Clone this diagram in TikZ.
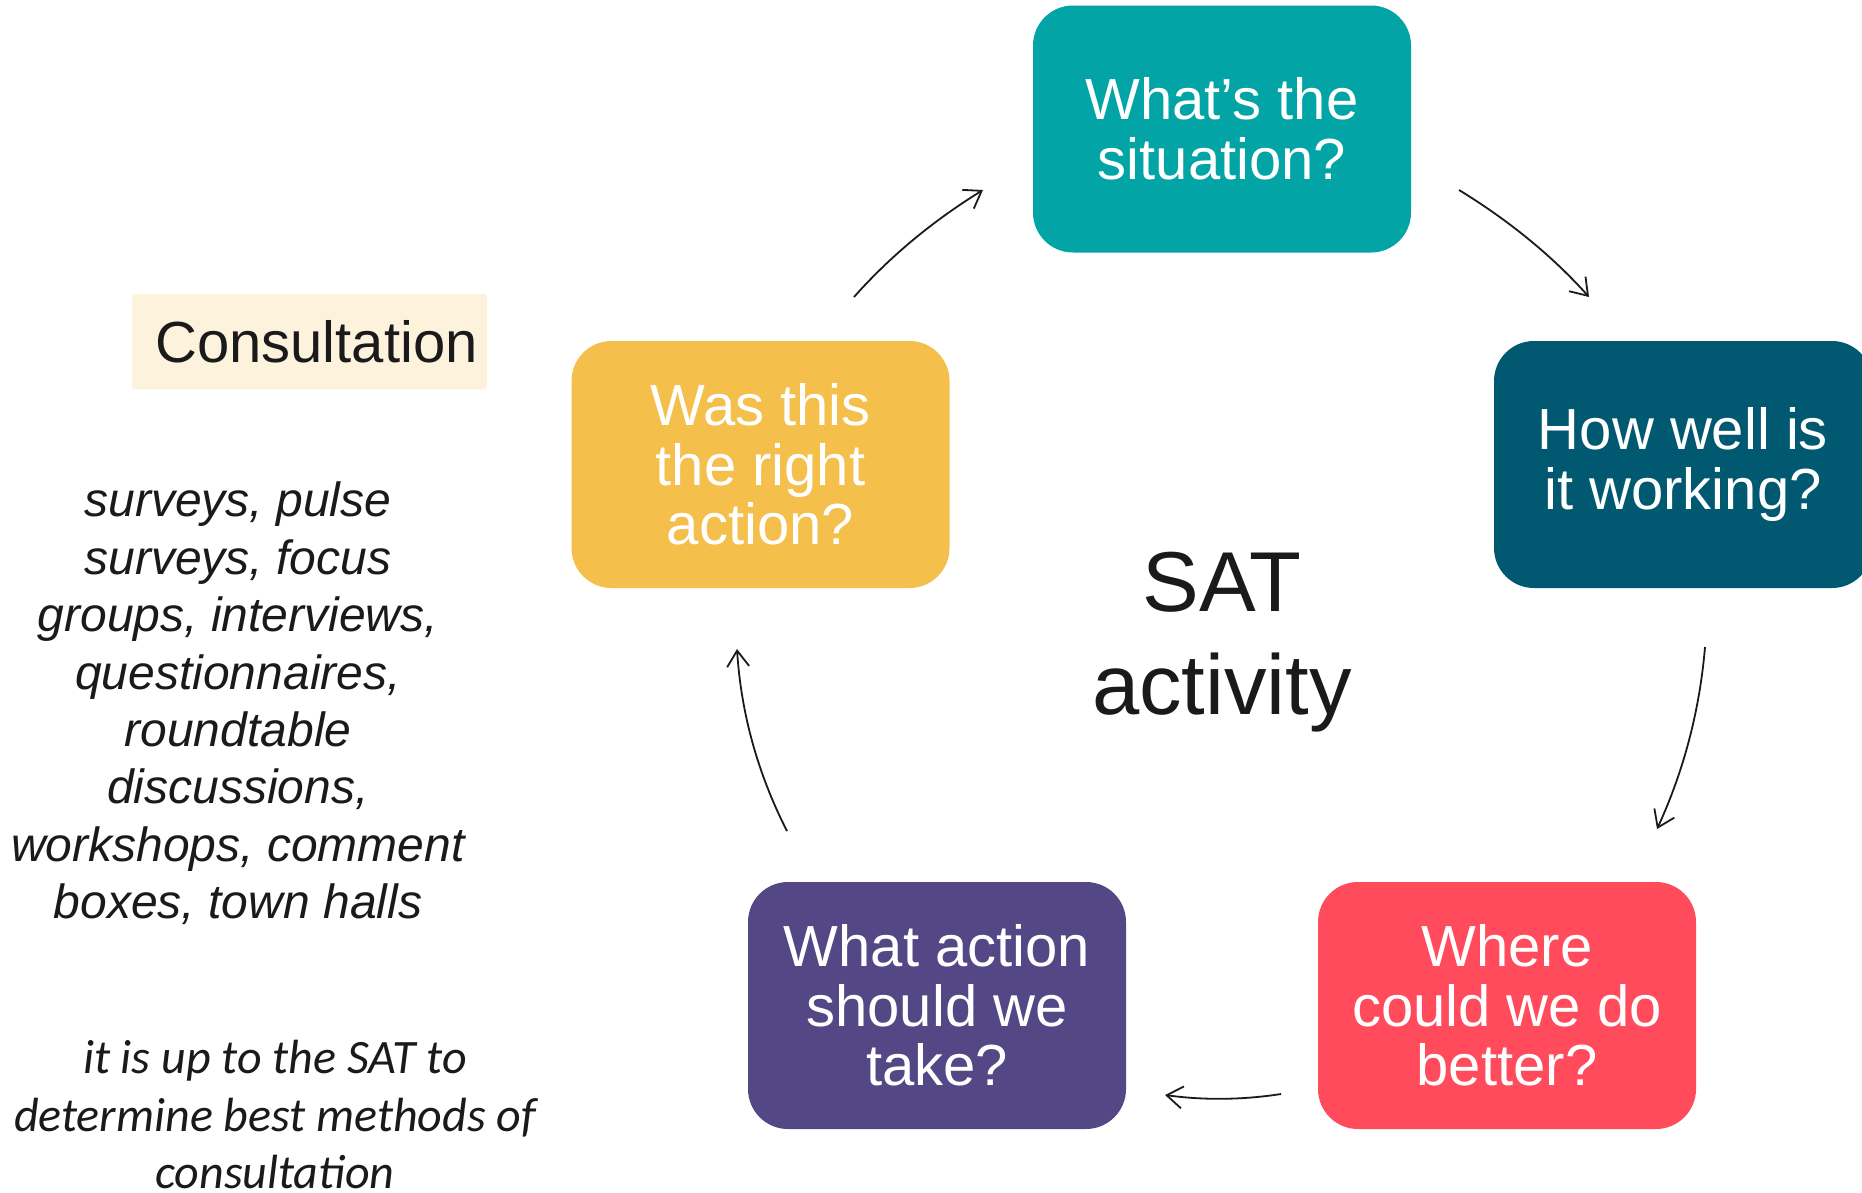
\documentclass[tikz,border=0pt]{standalone}
\usepackage{fontspec}
\setmainfont{Liberation Sans}
\newfontfamily\carlito{Carlito}
\usetikzlibrary{arrows.meta}
\definecolor{cteal}{HTML}{03A4A6}
\definecolor{cdark}{HTML}{005970}
\definecolor{cred}{HTML}{FF4B5C}
\definecolor{cpurple}{HTML}{544785}
\definecolor{cyellow}{HTML}{F5BF4B}
\definecolor{ccream}{HTML}{FDF2DC}
\definecolor{ctext}{HTML}{1A1A1A}
\begin{document}
\begin{tikzpicture}[x=1pt,y=-1pt,
  qbox/.style={rounded corners=40pt, minimum width=378pt, minimum height=247pt,
    text=white, align=center, inner sep=0pt,
    font=\fontsize{58}{59.5}\selectfont},
  cyc/.style={-{Straight Barb[length=16pt,width=22pt]}, line width=1.8pt, draw=ctext},
  sidetext/.style={align=center, inner sep=0pt, anchor=north, text=ctext}]
\useasboundingbox (0,0) rectangle (1862,1192);
\clip (0,0) rectangle (1862,1192);
\fill[white] (0,0) rectangle (1862,1192);

% question boxes
\node[qbox, fill=cteal]   (top)    at (1222,129)   {What’s the\\situation?};
\node[qbox, fill=cdark]   (right)  at (1683,464.5) {How well is\\it working?};
\node[qbox, fill=cred]    (better) at (1507,1005.5){Where\\could we do\\better?};
\node[qbox, fill=cpurple] (action) at (937,1005.5) {What action\\should we\\take?};
\node[qbox, fill=cyellow] (right2) at (760.5,464.5){Was this\\the right\\action?};

% centre label
\node[sidetext, font=\fontsize{85}{103}\selectfont] (sat) at (1222,552) {SAT\\activity};

% consultation label
\node[fill=ccream, rounded corners=3pt, minimum width=355pt, minimum height=95pt,
      inner sep=0pt, text=ctext, font=\fontsize{58}{60}\selectfont]
      (consult) at (309.5,341.5) {\hspace*{14pt}Consultation};

\node[sidetext, font=\fontsize{48}{57.4}\selectfont\itshape] (methods) at (238,482)
  {surveys, pulse\\surveys, focus\\groups, interviews,\\questionnaires,\\roundtable\\discussions,\\workshops, comment\\boxes, town halls};

\node[sidetext, font=\carlito\fontsize{48}{57.5}\selectfont\itshape] (note) at (275,1040)
  {it is up to the SAT to\\determine best methods of\\consultation};

% cycle arrows
\coordinate (a1s) at (854,297);  \coordinate (a1e) at (983,190);
\coordinate (a2s) at (1459,190); \coordinate (a2e) at (1589,297);
\coordinate (a3s) at (1705,647); \coordinate (a3e) at (1657,829);
\coordinate (a4s) at (1281,1094);\coordinate (a4e) at (1165,1095);
\coordinate (a5s) at (787,831);  \coordinate (a5e) at (737,649);
\draw[cyc] (a1s) .. controls (889.7,256.7) and (932.7,221) .. (a1e);
\draw[cyc] (a2s) .. controls (1509.7,221) and (1553,256.7) .. (a2e);
\draw[cyc] (a3s) .. controls (1699.7,710.3) and (1683.7,771) .. (a3e);
\draw[cyc] (a4s) .. controls (1242.3,1100) and (1203.7,1100.3) .. (a4e);
\draw[cyc] (a5s) .. controls (757.7,773.7) and (741,713) .. (a5e);
\end{tikzpicture}
\end{document}
